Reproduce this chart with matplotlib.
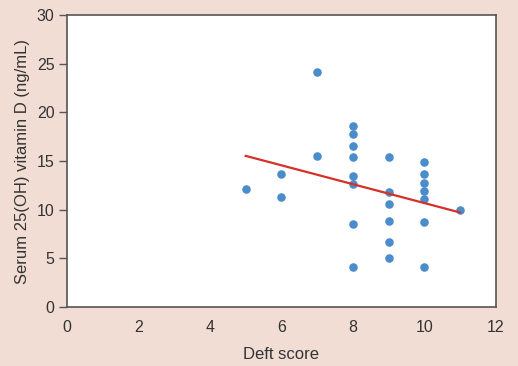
import matplotlib
matplotlib.use("Agg")
import matplotlib.pyplot as plt
import numpy as np

plt.rcParams['font.family'] = ['Liberation Sans', 'DejaVu Sans']

# data
deft = [5,
        6, 6,
        7, 7,
        8, 8, 8, 8, 8, 8, 8, 8,
        9, 9, 9, 9, 9, 9,
        10, 10, 10, 10, 10, 10, 10,
        11]
vitd = [12.1,
        13.7, 11.3,
        24.1, 15.5,
        18.6, 17.8, 16.5, 15.4, 13.5, 12.6, 8.5, 4.1,
        15.4, 11.8, 10.6, 8.8, 6.7, 5.0,
        14.9, 13.7, 12.7, 11.9, 11.1, 8.7, 4.1,
        10.0]

# fitted line
fit_x = [5, 11]
fit_intercept = 20.38
fit_slope = -0.97

bg = '#F2DDD4'
edge = '#555555'

fig = plt.figure(figsize=(5.18, 3.66), dpi=100, facecolor=bg)
ax = fig.add_axes([0.1293, 0.161, 0.8282, 0.798])
ax.set_facecolor('white')

ax.scatter(deft, vitd, s=38, color='#4A8DCA', zorder=3, linewidths=0)
fx = np.array(fit_x)
ax.plot(fx, fit_intercept + fit_slope * fx, color='#D63028', lw=1.6, zorder=4)

ax.set_xlim(0, 12)
ax.set_ylim(0, 30)
ax.set_xticks(range(0, 13, 2))
ax.set_yticks(range(0, 31, 5))
for s in ax.spines.values():
    s.set_color(edge)
    s.set_linewidth(1.2)
ax.tick_params(axis='x', length=0, pad=9, labelsize=11.5, labelcolor='#333333')
ax.tick_params(axis='y', length=6, width=1, color=edge, pad=3, labelsize=11.5, labelcolor='#333333')

ax.set_xlabel('Deft score', fontsize=12, color='#333333', labelpad=9)
ax.set_ylabel('Serum 25(OH) vitamin D (ng/mL)', fontsize=12, color='#333333', labelpad=5)

fig.savefig('out.png', dpi=100, facecolor=bg)
